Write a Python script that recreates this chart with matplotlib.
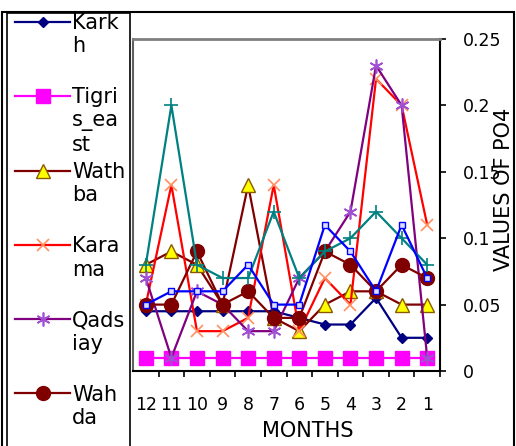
import matplotlib
matplotlib.use("Agg")
import matplotlib.pyplot as plt
from matplotlib.patches import Rectangle

# Monthly PO4 values, listed from month 12 down to month 1
months = ["12", "11", "10", "9", "8", "7", "6", "5", "4", "3", "2", "1"]

karkh = [0.045, 0.045, 0.045, 0.045, 0.045, 0.045, 0.04, 0.035, 0.035, 0.055, 0.025, 0.025]
tigris_east = [0.01, 0.01, 0.01, 0.01, 0.01, 0.01, 0.01, 0.01, 0.01, 0.01, 0.01, 0.01]
wathba = [0.08, 0.09, 0.08, 0.05, 0.14, 0.04, 0.03, 0.05, 0.06, 0.06, 0.05, 0.05]
karama = [0.05, 0.14, 0.03, 0.03, 0.04, 0.14, 0.03, 0.07, 0.05, 0.22, 0.2, 0.11]
qadsiay = [0.07, 0.01, 0.06, 0.05, 0.03, 0.03, 0.07, 0.09, 0.12, 0.23, 0.2, 0.01]
wahda = [0.05, 0.05, 0.09, 0.05, 0.06, 0.04, 0.04, 0.09, 0.08, 0.06, 0.08, 0.07]
station7 = [0.08, 0.2, 0.08, 0.07, 0.07, 0.12, 0.07, 0.09, 0.10, 0.12, 0.10, 0.08]
station8 = [0.05, 0.06, 0.06, 0.06, 0.08, 0.05, 0.05, 0.11, 0.09, 0.06, 0.11, 0.07]

legend_labels = ["Kark\nh\n", "Tigri\ns_ea\nst", "Wath\nba\n",
                 "Kara\nma\n", "Qads\niay\n", "Wah\nda"]

W, H = 516, 446
fig = plt.figure(figsize=(W / 100, H / 100), dpi=100)
fig.patch.set_facecolor("white")

ax = fig.add_axes([133 / W, 75 / H, 307 / W, 332 / H])
x = list(range(len(months)))

asterisk = (6, 2, 0)
styles = [
    (karkh, dict(color="#000080", marker="D", ms=5.5, mfc="#000080", mec="#000080")),
    (tigris_east, dict(color="#FF00FF", marker="s", ms=10, mfc="#FF00FF", mec="#FF00FF")),
    (wathba, dict(color="#800000", marker="^", ms=10, mfc="#FFFF00", mec="#8B5A00")),
    (karama, dict(color="#FF0000", marker="x", ms=9, mec="#FF9060", mew=1.2)),
    (qadsiay, dict(color="#800080", marker=asterisk, ms=10, mec="#A050D0", mew=1.2)),
    (wahda, dict(color="#800000", marker="o", ms=10, mfc="#800000", mec="#800000")),
    (station7, dict(color="#008080", marker="+", ms=10, mec="#008080", mew=1.2)),
    (station8, dict(color="#0000FF", marker="s", ms=4, mfc="#DDDDFF", mec="#0000FF")),
]

handles = []
for vals, st in styles:
    line, = ax.plot(x, vals, lw=1.6, **st)
    handles.append(line)

ax.set_xlim(-0.5, 11.5)
ax.set_ylim(0, 0.25)

ax.set_xticks(x)
ax.set_xticklabels(months)
ax.set_xticks([i + 0.5 for i in range(12)], minor=True)
ax.tick_params(axis="x", which="major", length=0, pad=18, labelsize=12.5)
ax.tick_params(axis="x", which="minor", length=4, width=1.2, direction="out")

ax.yaxis.tick_right()
yticks = [0, 0.05, 0.1, 0.15, 0.2, 0.25]
ax.set_yticks(yticks)
ax.set_yticklabels(["0", "0.05", "0.1", "0.15", "0.2", "0.25"])
ax.tick_params(axis="y", which="major", length=4.5, width=1.2, pad=12, labelsize=12.5)

for side in ("bottom", "right"):
    ax.spines[side].set_color("black")
    ax.spines[side].set_linewidth(1.5)
ax.spines["top"].set_color("#808080")
ax.spines["top"].set_linewidth(2)
ax.spines["left"].set_color("#606060")
ax.spines["left"].set_linewidth(1.5)

ax.set_xlabel("MONTHS", fontsize=15)
ax.xaxis.set_label_coords(0.57, -0.18)
ax.xaxis.label.set_va("center")
ax.set_ylabel("VALUES OF PO4", fontsize=15, rotation=90)
ax.yaxis.set_label_coords(1.21, 0.548)
ax.yaxis.label.set_va("center")
ax.yaxis.label.set_ha("center")

leg = fig.legend(handles[:6], legend_labels, loc="upper left",
                 bbox_to_anchor=(15 / W, 1 - 13 / H), bbox_transform=fig.transFigure,
                 frameon=False, fontsize=15, handlelength=2.65, handletextpad=0.1,
                 labelspacing=0.37, borderpad=0, borderaxespad=0, handleheight=1.1)
for col in leg._legend_handle_box.get_children():
    for row in col.get_children():
        row.align = "top"

# legend box and outer chart frame
fig.add_artist(Rectangle((7 / W, -0.05), 123 / W, 1.05 - 13 / H,
                         transform=fig.transFigure, fill=False, ec="black", lw=1.2))
fig.add_artist(Rectangle((2 / W, -0.05), 512 / W, 1.05 - 12 / H,
                         transform=fig.transFigure, fill=False, ec="black", lw=1.5))

fig.savefig("out.png", dpi=100, facecolor="white")
